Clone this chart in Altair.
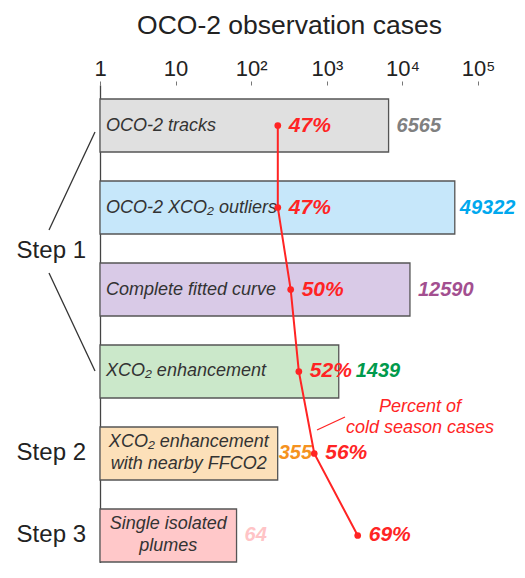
import altair as alt
import pandas as pd

# ---- data ----
keys = ["k1", "k2", "k3", "k4", "k5", "k6"]
categories = [
    "OCO-2 tracks",
    "OCO-2 XCO\u2082 outliers",
    "Complete fitted curve",
    "XCO\u2082 enhancement",
    "XCO\u2082 enhancement\nwith nearby FFCO2",
    "Single isolated\nplumes",
]
cases = [6565, 49322, 12590, 1439, 355, 64]          # printed counts
bar_lengths = [6565, 49322, 12590, 1439, 224, 64]    # bar extents as drawn
cold_pct = [47, 47, 50, 52, 56, 69]                  # percent of cold season cases
tick_values = [1, 10, 100, 1000, 10000, 100000]
step_names = ["Step 1", "Step 2", "Step 3"]

fill_colors = ["#e0e0e0", "#c6e7fa", "#d9cae7", "#cbe8ca", "#fce0b9", "#ffc8c9"]
label_colors = ["#808080", "#00a8ee", "#a34f90", "#009a4c", "#f5921e", "#ffc4c6"]
RED = "#ff2424"
FONT = "Liberation Sans"

df = pd.DataFrame({
    "key": keys,
    "cat": categories,
    "cases": cases,
    "bar_len": bar_lengths,
    "cold_pct": cold_pct,
    "idx": list(range(len(keys))),
    "one": [1] * len(keys),
})

xscale = alt.Scale(type="log", domain=[1, 100000])
pscale = alt.Scale(type="log", domain=[20, 123])

y_enc = alt.Y(
    "key:N", sort=keys,
    scale=alt.Scale(domain=keys, paddingInner=0.354, paddingOuter=0.171),
    axis=alt.Axis(labels=False, ticks=False, title=None, domain=True,
                  domainColor="#444444", domainWidth=1.3, grid=False),
)

label_expr = ("datum.value == 1 ? '1' : datum.value == 10 ? '10' : "
              "datum.value == 100 ? '10\u00b2' : datum.value == 1000 ? '10\u00b3' : "
              "datum.value == 10000 ? '10\u2074' : '10\u2075'")

top_axis = alt.Axis(
    orient="top", values=tick_values, labelExpr=label_expr,
    labelFont=FONT, labelFontSize=22, labelColor="#222222", labelFlush=False,
    labelOverlap=False, labelPadding=6, labelBaseline="alphabetic",
    tickSize=4, tickColor="#777777", tickWidth=1, domain=False, grid=False,
    title="OCO-2 observation cases", titleFont=FONT, titleFontSize=26.5,
    titleFontWeight="normal", titleColor="#222222", titleX=189, titleY=-52,
    titleAlign="center", titleBaseline="alphabetic",
)

base = alt.Chart(df)

bars = base.mark_bar(stroke="#555555", strokeWidth=1.3).encode(
    x=alt.X("bar_len:Q", scale=xscale, axis=top_axis),
    x2=alt.X2("one:Q"),
    y=y_enc,
    fill=alt.Fill("key:N", scale=alt.Scale(domain=keys, range=fill_colors), legend=None),
)

lab_left = base.transform_filter(
    alt.FieldOneOfPredicate(field="key", oneOf=keys[:4])
).mark_text(
    align="left", baseline="middle", dx=6, font=FONT, fontSize=18,
    fontStyle="italic", color="#333333", lineBreak="\n",
).encode(
    x=alt.X("one:Q", scale=xscale, axis=None), y=y_enc, text="cat:N",
)

lab_center = base.transform_filter(
    alt.FieldOneOfPredicate(field="key", oneOf=keys[4:])
).transform_calculate(
    mid="sqrt(datum.bar_len)"
).mark_text(
    align="center", baseline="middle", dy=-11, font=FONT, fontSize=18,
    fontStyle="italic", color="#333333", lineBreak="\n", lineHeight=22,
).encode(
    x=alt.X("mid:Q", scale=xscale, axis=None), y=y_enc, text="cat:N",
)

count_color = alt.Color("key:N", scale=alt.Scale(domain=keys, range=label_colors), legend=None)


def count_labels(key_list, dx):
    return base.transform_filter(
        alt.FieldOneOfPredicate(field="key", oneOf=key_list)
    ).mark_text(
        align="left", baseline="middle", dx=dx, font=FONT, fontSize=20,
        fontStyle="italic", fontWeight="bold",
    ).encode(
        x=alt.X("bar_len:Q", scale=xscale, axis=None), y=y_enc,
        text=alt.Text("cases:Q", format="d"), color=count_color,
    )


cnt_a = count_labels(["k1", "k3", "k6"], 8)
cnt_w = count_labels(["k2"], 5)
cnt_b = count_labels(["k4"], 17)
cnt_c = count_labels(["k5"], 1)

steps_df = pd.DataFrame({"step": step_names, "key": ["k2", "k5", "k6"]})
step1 = alt.Chart(steps_df).transform_filter(alt.datum.step == "Step 1").mark_text(
    align="right", baseline="middle", dy=43, font=FONT, fontSize=24, color="#222222",
).encode(x=alt.value(-14), y=y_enc, text="step:N")
step23 = alt.Chart(steps_df).transform_filter(alt.datum.step != "Step 1").mark_text(
    align="right", baseline="middle", font=FONT, fontSize=24, color="#222222",
).encode(x=alt.value(-14), y=y_enc, text="step:N")

one_row = alt.Chart(pd.DataFrame({"a": [0]}))
bracket_up = one_row.mark_rule(color="#333333", strokeWidth=1.3).encode(
    x=alt.value(-5), y=alt.value(47), x2=alt.value(-51), y2=alt.value(145))
bracket_dn = one_row.mark_rule(color="#333333", strokeWidth=1.3).encode(
    x=alt.value(-51), y=alt.value(188), x2=alt.value(-5), y2=alt.value(286))
pointer = one_row.mark_rule(color=RED, strokeWidth=1.3).encode(
    x=alt.value(217), y=alt.value(345), x2=alt.value(245), y2=alt.value(332))
annot = one_row.mark_text(
    align="center", baseline="middle", font=FONT, fontSize=18, fontStyle="italic",
    color=RED, lineBreak="\n", lineHeight=21,
).encode(x=alt.value(320), y=alt.value(321.5), text=alt.value("Percent of\ncold season cases"))

count_layer = alt.layer(
    bars, lab_left, lab_center, cnt_a, cnt_w, cnt_b, cnt_c,
    step1, step23, bracket_up, bracket_dn, pointer, annot,
).resolve_axis(x="independent").resolve_scale(color="independent")

line = base.mark_line(color=RED, strokeWidth=2).encode(
    x=alt.X("cold_pct:Q", scale=pscale, axis=None), y=y_enc, order=alt.Order("idx:Q"))
pts = base.mark_circle(color=RED, size=45, opacity=1).encode(
    x=alt.X("cold_pct:Q", scale=pscale, axis=None), y=y_enc)
pct_text = base.transform_calculate(pct_label="datum.cold_pct + '%'").mark_text(
    align="left", baseline="middle", dx=11, font=FONT, fontSize=21,
    fontStyle="italic", fontWeight="bold", color=RED,
).encode(x=alt.X("cold_pct:Q", scale=pscale, axis=None), y=y_enc, text="pct_label:N")

pct_layer = alt.layer(line, pts, pct_text)

chart = alt.layer(count_layer, pct_layer).resolve_scale(x="independent").properties(
    width=378, height=491,
    padding={"left": 92, "top": 77, "right": 39, "bottom": -13},
    autosize=alt.AutoSizeParams(type="none"),
    background="white",
).configure_view(stroke=None)

chart.save("out.html", embed_options={"renderer": "svg", "actions": False})
